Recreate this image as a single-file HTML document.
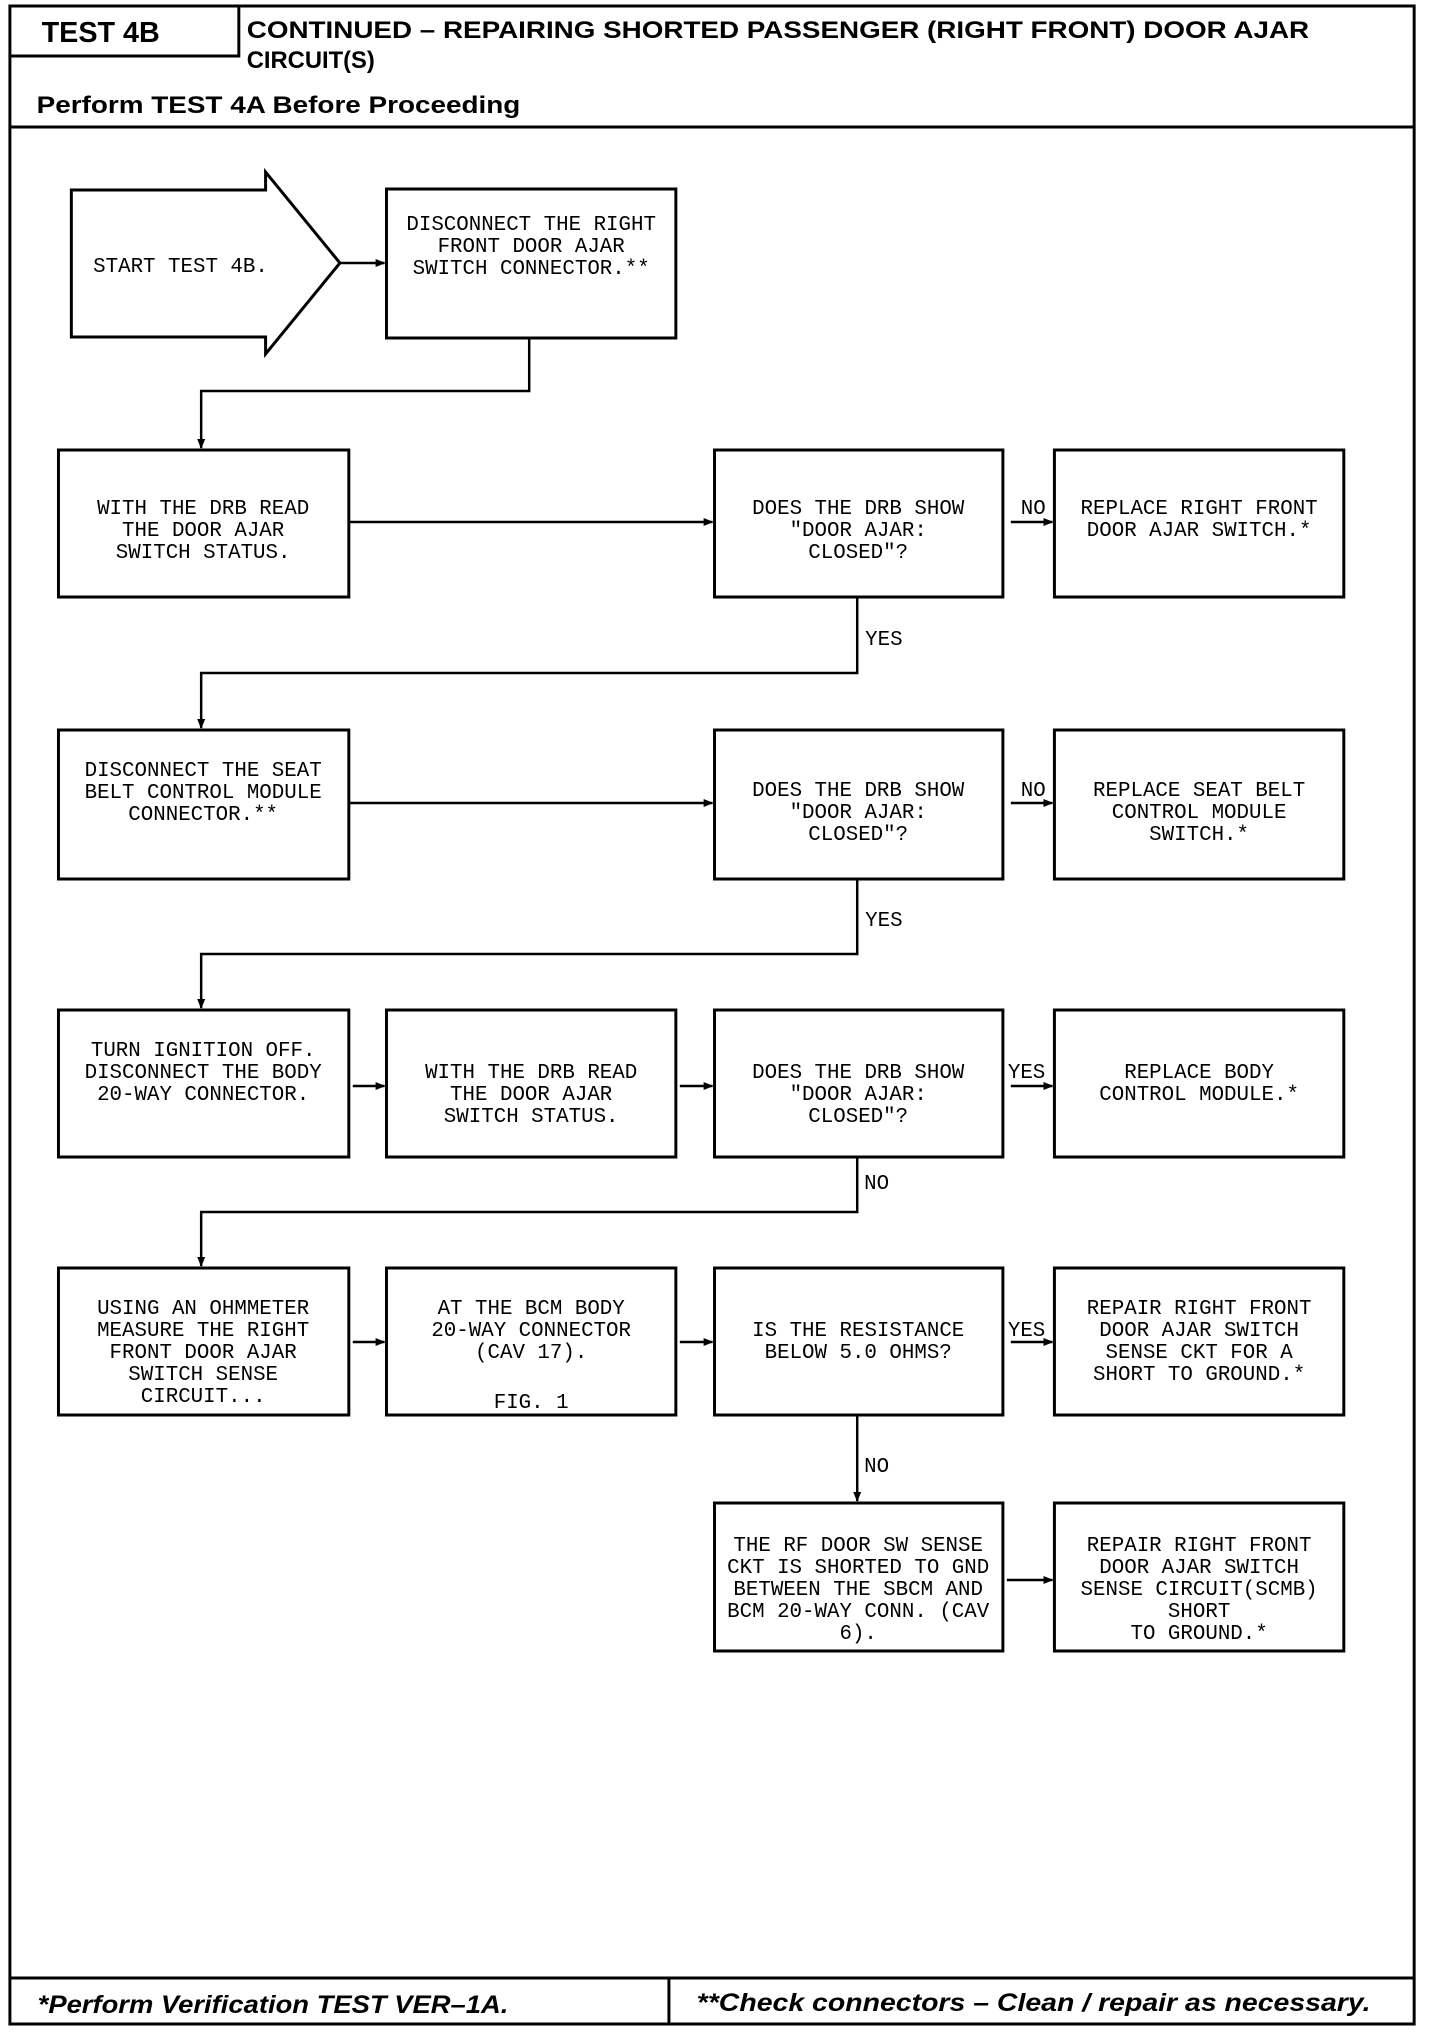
<!DOCTYPE html>
<html><head><meta charset="utf-8"><style>
html,body{margin:0;padding:0;background:#fff}
svg{display:block}
.m{font-family:"Liberation Mono",monospace;font-size:21px;fill:#000}
.h{font-family:"Liberation Sans",sans-serif;font-weight:bold;fill:#000}
</style></head><body>
<svg width="1440" height="2032" viewBox="0 0 1440 2032" xmlns="http://www.w3.org/2000/svg">
<defs><marker id="a" markerWidth="10" markerHeight="10" refX="9" refY="5" orient="auto" markerUnits="userSpaceOnUse"><path d="M0,1 L10,5 L0,9 z" fill="#000"/></marker></defs>
<g transform="scale(0.991,1)">
<g fill="none" stroke="#000" stroke-width="3">
<rect x="10" y="6" width="1417" height="2018"/>
<path d="M10,56 H241 V6"/>
<line x1="10" y1="127" x2="1427" y2="127"/>
<line x1="10" y1="1978" x2="1427" y2="1978"/>
<line x1="675" y1="1978" x2="675" y2="2024"/>
<path d="M72,190 H268 V172 L343,263 L268,354 V337 H72 Z"/>
<rect x="390" y="189" width="292" height="149"/>
<rect x="59" y="450" width="293" height="147"/>
<rect x="721" y="450" width="291" height="147"/>
<rect x="1064" y="450" width="292" height="147"/>
<rect x="59" y="730" width="293" height="149"/>
<rect x="721" y="730" width="291" height="149"/>
<rect x="1064" y="730" width="292" height="149"/>
<rect x="59" y="1010" width="293" height="147"/>
<rect x="390" y="1010" width="292" height="147"/>
<rect x="721" y="1010" width="291" height="147"/>
<rect x="1064" y="1010" width="292" height="147"/>
<rect x="59" y="1268" width="293" height="147"/>
<rect x="390" y="1268" width="292" height="147"/>
<rect x="721" y="1268" width="291" height="147"/>
<rect x="1064" y="1268" width="292" height="147"/>
<rect x="721" y="1503" width="291" height="148"/>
<rect x="1064" y="1503" width="292" height="148"/>
</g>
<g fill="none" stroke="#000" stroke-width="2.5">
<line x1="343" y1="263" x2="388" y2="263" marker-end="url(#a)"/>
<path d="M534,338 V391 H203 V448" marker-end="url(#a)"/>
<line x1="352" y1="522" x2="719" y2="522" marker-end="url(#a)"/>
<line x1="1020" y1="522" x2="1062" y2="522" marker-end="url(#a)"/>
<path d="M865,597 V673 H203 V728" marker-end="url(#a)"/>
<line x1="352" y1="803" x2="719" y2="803" marker-end="url(#a)"/>
<line x1="1020" y1="803" x2="1062" y2="803" marker-end="url(#a)"/>
<path d="M865,879 V954 H203 V1008" marker-end="url(#a)"/>
<line x1="356" y1="1086" x2="388" y2="1086" marker-end="url(#a)"/>
<line x1="686" y1="1086" x2="719" y2="1086" marker-end="url(#a)"/>
<line x1="1020" y1="1086" x2="1062" y2="1086" marker-end="url(#a)"/>
<path d="M865,1157 V1212 H203 V1266" marker-end="url(#a)"/>
<line x1="356" y1="1342" x2="388" y2="1342" marker-end="url(#a)"/>
<line x1="686" y1="1342" x2="719" y2="1342" marker-end="url(#a)"/>
<line x1="1020" y1="1342" x2="1062" y2="1342" marker-end="url(#a)"/>
<line x1="865" y1="1415" x2="865" y2="1501" marker-end="url(#a)"/>
<line x1="1016" y1="1580" x2="1062" y2="1580" marker-end="url(#a)"/>
</g>
<text class="h" x="42" y="42" font-size="29">TEST 4B</text>
<text class="h" x="249" y="38" font-size="24" textLength="1072" lengthAdjust="spacingAndGlyphs">CONTINUED – REPAIRING SHORTED PASSENGER (RIGHT FRONT) DOOR AJAR</text>
<text class="h" x="249" y="68" font-size="24">CIRCUIT(S)</text>
<text class="h" x="37" y="113" font-size="24" textLength="488" lengthAdjust="spacingAndGlyphs">Perform TEST 4A Before Proceeding</text>
<text class="h" x="38" y="2013" font-size="25" font-style="italic" textLength="475" lengthAdjust="spacingAndGlyphs">*Perform Verification TEST VER–1A.</text>
<text class="h" x="703" y="2011" font-size="25" font-style="italic" textLength="680" lengthAdjust="spacingAndGlyphs">**Check connectors – Clean / repair as necessary.</text>
<text class="m" x="94" y="272">START TEST 4B.</text>
<g class="m" text-anchor="middle">
<text x="536" y="230">DISCONNECT THE RIGHT</text><text x="536" y="252">FRONT DOOR AJAR</text><text x="536" y="274">SWITCH CONNECTOR.**</text>
<text x="205" y="514">WITH THE DRB READ</text><text x="205" y="536">THE DOOR AJAR</text><text x="205" y="558">SWITCH STATUS.</text>
<text x="866" y="514">DOES THE DRB SHOW</text><text x="866" y="536">"DOOR AJAR:</text><text x="866" y="558">CLOSED"?</text>
<text x="1210" y="514">REPLACE RIGHT FRONT</text><text x="1210" y="536">DOOR AJAR SWITCH.*</text>
<text x="205" y="776">DISCONNECT THE SEAT</text><text x="205" y="798">BELT CONTROL MODULE</text><text x="205" y="820">CONNECTOR.**</text>
<text x="866" y="796">DOES THE DRB SHOW</text><text x="866" y="818">"DOOR AJAR:</text><text x="866" y="840">CLOSED"?</text>
<text x="1210" y="796">REPLACE SEAT BELT</text><text x="1210" y="818">CONTROL MODULE</text><text x="1210" y="840">SWITCH.*</text>
<text x="205" y="1056">TURN IGNITION OFF.</text><text x="205" y="1078">DISCONNECT THE BODY</text><text x="205" y="1100">20-WAY CONNECTOR.</text>
<text x="536" y="1078">WITH THE DRB READ</text><text x="536" y="1100">THE DOOR AJAR</text><text x="536" y="1122">SWITCH STATUS.</text>
<text x="866" y="1078">DOES THE DRB SHOW</text><text x="866" y="1100">"DOOR AJAR:</text><text x="866" y="1122">CLOSED"?</text>
<text x="1210" y="1078">REPLACE BODY</text><text x="1210" y="1100">CONTROL MODULE.*</text>
<text x="205" y="1314">USING AN OHMMETER</text><text x="205" y="1336">MEASURE THE RIGHT</text><text x="205" y="1358">FRONT DOOR AJAR</text><text x="205" y="1380">SWITCH SENSE</text><text x="205" y="1402">CIRCUIT...</text>
<text x="536" y="1314">AT THE BCM BODY</text><text x="536" y="1336">20-WAY CONNECTOR</text><text x="536" y="1358">(CAV 17).</text><text x="536" y="1408">FIG. 1</text>
<text x="866" y="1336">IS THE RESISTANCE</text><text x="866" y="1358">BELOW 5.0 OHMS?</text>
<text x="1210" y="1314">REPAIR RIGHT FRONT</text><text x="1210" y="1336">DOOR AJAR SWITCH</text><text x="1210" y="1358">SENSE CKT FOR A</text><text x="1210" y="1380">SHORT TO GROUND.*</text>
<text x="866" y="1551">THE RF DOOR SW SENSE</text><text x="866" y="1573">CKT IS SHORTED TO GND</text><text x="866" y="1595">BETWEEN THE SBCM AND</text><text x="866" y="1617">BCM 20-WAY CONN. (CAV</text><text x="866" y="1639">6).</text>
<text x="1210" y="1551">REPAIR RIGHT FRONT</text><text x="1210" y="1573">DOOR AJAR SWITCH</text><text x="1210" y="1595">SENSE CIRCUIT(SCMB)</text><text x="1210" y="1617">SHORT</text><text x="1210" y="1639">TO GROUND.*</text>
</g>
<g class="m">
<text x="1030" y="514">NO</text>
<text x="873" y="645">YES</text>
<text x="1030" y="796">NO</text>
<text x="873" y="926">YES</text>
<text x="1017" y="1078">YES</text>
<text x="872" y="1189">NO</text>
<text x="1017" y="1336">YES</text>
<text x="872" y="1472">NO</text>
</g>
</g>
</svg>
</body></html>
